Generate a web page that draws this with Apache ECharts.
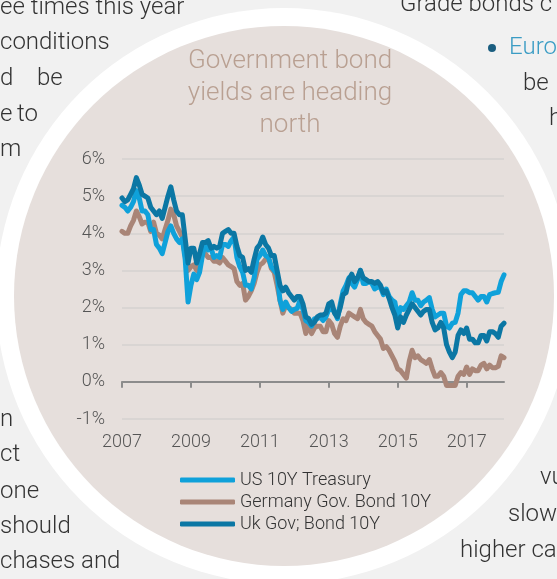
<!DOCTYPE html>
<html>
<head>
<meta charset="utf-8">
<script src="https://cdn.jsdelivr.net/npm/echarts@6/dist/echarts.min.js"></script>
<style>
html,body{margin:0;padding:0;background:#f1f1f1;}
#chart{width:557px;height:579px;}
</style>
</head>
<body>
<div id="chart"></div>
<script>
// ---- data (monthly, Jan 2007 - Feb 2018) ----
const startYear = 2007;
const endYear = 2018, endMonth = 2;
const categories = [];
for (let y = startYear; y <= endYear; y++) {
  for (let m = 1; m <= 12; m++) {
    if (y === endYear && m > endMonth) break;
    categories.push(y + '-' + (m < 10 ? '0' + m : m));
  }
}
const seriesNames = ['US 10Y Treasury', 'Germany Gov. Bond 10Y', 'Uk Gov; Bond 10Y'];
const us = [
  4.75,4.7,4.6,4.7,4.85,5.15,4.95,4.6,4.6,4.5,4.1,4.1,
  3.7,3.6,3.45,3.75,4.05,4.2,4.0,3.85,3.75,3.85,3.3,2.15,
  2.6,2.9,2.75,2.95,3.4,3.75,3.55,3.6,3.35,3.4,3.35,3.7,
  3.7,3.65,3.8,3.9,3.35,3.1,2.95,2.6,2.6,2.5,2.8,3.3,
  3.4,3.55,3.4,3.35,3.1,3.0,2.9,2.2,1.95,2.15,2.0,1.9,
  1.95,1.98,2.2,1.95,1.65,1.6,1.5,1.7,1.7,1.75,1.65,1.75,
  1.95,1.95,1.9,1.7,2.1,2.45,2.6,2.8,2.65,2.55,2.75,3.0,
  2.65,2.65,2.7,2.65,2.5,2.55,2.55,2.35,2.5,2.3,2.2,2.15,
  1.7,2.0,1.95,2.05,2.15,2.4,2.2,2.2,2.05,2.15,2.2,2.27,
  1.95,1.75,1.8,1.85,1.85,1.5,1.45,1.58,1.6,1.85,2.35,2.45,
  2.45,2.4,2.4,2.3,2.2,2.3,2.3,2.15,2.35,2.38,2.4,2.41,
  2.7,2.88
];
const germany = [
  4.05,4.0,4.0,4.2,4.35,4.6,4.45,4.25,4.3,4.3,4.05,4.3,
  4.0,3.95,3.85,4.1,4.35,4.65,4.5,4.2,4.05,3.9,3.4,3.0,
  3.1,3.15,3.0,3.2,3.55,3.45,3.35,3.35,3.25,3.25,3.2,3.35,
  3.25,3.15,3.1,3.05,2.7,2.6,2.65,2.2,2.3,2.45,2.65,2.95,
  3.15,3.2,3.3,3.35,3.05,2.95,2.6,2.2,1.85,2.05,2.0,1.95,
  1.85,1.85,1.85,1.65,1.3,1.55,1.3,1.45,1.5,1.5,1.35,1.35,
  1.65,1.55,1.3,1.2,1.5,1.7,1.65,1.85,1.8,1.75,1.7,1.95,
  1.7,1.6,1.55,1.5,1.35,1.25,1.15,0.9,0.95,0.85,0.7,0.55,
  0.35,0.3,0.2,0.1,0.55,0.85,0.65,0.7,0.6,0.55,0.5,0.6,
  0.35,0.15,0.15,0.25,0.15,-0.1,-0.1,-0.1,-0.1,0.15,0.25,0.2,
  0.4,0.2,0.35,0.3,0.3,0.45,0.5,0.35,0.45,0.38,0.38,0.42,
  0.7,0.65
];
const uk = [
  4.95,4.85,4.9,5.05,5.2,5.5,5.3,5.05,5.0,4.95,4.7,4.6,
  4.5,4.6,4.4,4.7,5.0,5.25,4.9,4.6,4.5,4.5,3.85,3.2,
  3.6,3.6,3.2,3.45,3.75,3.75,3.8,3.6,3.65,3.6,3.65,4.0,
  4.05,4.1,4.0,4.0,3.65,3.4,3.35,3.0,3.05,2.95,3.3,3.6,
  3.7,3.9,3.7,3.6,3.4,3.4,3.0,2.6,2.45,2.55,2.4,2.3,
  2.2,2.3,2.3,2.1,1.75,1.7,1.55,1.6,1.75,1.8,1.8,1.85,
  2.1,2.15,1.85,1.75,2.0,2.35,2.4,2.75,2.9,2.7,2.8,3.0,
  2.8,2.75,2.7,2.7,2.65,2.7,2.6,2.4,2.45,2.25,2.0,1.8,
  1.45,1.75,1.6,1.8,1.95,2.1,2.0,1.9,1.8,1.9,1.95,1.95,
  1.6,1.4,1.45,1.6,1.45,1.0,0.8,0.65,0.8,1.25,1.4,1.3,
  1.45,1.15,1.15,1.05,1.05,1.25,1.25,1.1,1.35,1.35,1.3,1.2,
  1.5,1.58
];
const yTicks = { min: -1, max: 6, step: 1 };
const titleLines = ['Government bond', 'yields are heading', 'north'];

const colors = { us: '#0fa1da', germany: '#a98577', uk: '#0b77a4' };
const FONT = 'Roboto, "Liberation Sans", sans-serif';

function bodyText(str, x, y, align, color, size) {
  return {
    type: 'text', x: x, y: y, z: -20,
    style: { text: str, fontSize: size || 24, fontWeight: 300, fontFamily: FONT,
      fill: color || '#333', textAlign: align || 'left', textVerticalAlign: 'middle' }
  };
}

const chart = echarts.init(document.getElementById('chart'));
chart.setOption({
  animation: false,
  backgroundColor: '#f1f1f1',
  graphic: [
    bodyText('ee times this year', 0, 8),
    bodyText('conditions', 0, 43),
    bodyText('d', 0, 79),
    bodyText('be', 37, 79),
    bodyText('e', 0, 115),
    bodyText('to', 17, 115),
    bodyText('m', 0, 150),
    bodyText('n', 0, 420),
    bodyText('ct', 0, 455),
    bodyText('one', 0, 492),
    bodyText('should', 0, 527),
    bodyText('chases and', 0, 562),
    bodyText('Grade bonds c', 400, 5),
    { type: 'circle', z: -20, shape: { cx: 492, cy: 48, r: 4 }, style: { fill: '#1b5e80' } },
    bodyText('Euro', 509, 48, 'left', '#3a9cc4'),
    bodyText('be', 523, 84),
    bodyText('h', 549, 119),
    bodyText('vu', 540, 478),
    bodyText('slow', 508, 515),
    bodyText('higher ca', 460, 551),
    { type: 'circle', z: -10, shape: { cx: 284, cy: 296, r: 288 }, style: { fill: '#ffffff' } },
    { type: 'circle', z: -9, shape: { cx: 284, cy: 296, r: 270 }, style: { fill: '#e6dfdc' } },
    {
      type: 'text', x: 290, y: 45, z: -5,
      style: { text: titleLines.join('\n'), fontSize: 26, fontWeight: 300, fontFamily: FONT,
        fill: '#b9a092', textAlign: 'center', textVerticalAlign: 'top', lineHeight: 32 }
    }
  ],
  grid: { left: 122, right: 53, top: 159, bottom: 160, outerBoundsMode: 'none' },
  legend: {
    orient: 'vertical', left: 175, top: 466,
    itemWidth: 55, itemHeight: 5, itemGap: 4,
    icon: 'roundRect',
    data: seriesNames,
    textStyle: { fontSize: 18, fontWeight: 300, fontFamily: FONT, color: '#333', lineHeight: 18 }
  },
  xAxis: {
    type: 'category', data: categories, boundaryGap: false,
    axisLine: { onZero: true, lineStyle: { color: '#8c8c8c', width: 2 } },
    axisTick: { show: true, length: 6, lineStyle: { color: '#8c8c8c', width: 2 },
      interval: function (i) { return i % 24 === 0; } },
    axisLabel: { interval: function (i) { return i % 24 === 0; },
      formatter: function (v) { return v.slice(0, 4); },
      margin: 14, fontSize: 18, fontWeight: 300, fontFamily: FONT, color: '#555' },
    splitLine: { show: false }
  },
  yAxis: {
    type: 'value', min: yTicks.min, max: yTicks.max, interval: yTicks.step,
    axisLine: { show: false }, axisTick: { show: false },
    axisLabel: { formatter: '{value}%', margin: 17, fontSize: 18, fontWeight: 300, fontFamily: FONT, color: '#555' },
    splitLine: { lineStyle: { color: '#d9d5d3', width: 2 } }
  },
  series: [
    { name: seriesNames[1], type: 'line', data: germany, showSymbol: false, symbol: 'none',
      lineStyle: { color: colors.germany, width: 5, join: 'round', cap: 'round' }, itemStyle: { color: colors.germany } },
    { name: seriesNames[0], type: 'line', data: us, showSymbol: false, symbol: 'none',
      lineStyle: { color: colors.us, width: 5, join: 'round', cap: 'round' }, itemStyle: { color: colors.us } },
    { name: seriesNames[2], type: 'line', data: uk, showSymbol: false, symbol: 'none',
      lineStyle: { color: colors.uk, width: 5, join: 'round', cap: 'round' }, itemStyle: { color: colors.uk } }
  ]
});
</script>
</body>
</html>
